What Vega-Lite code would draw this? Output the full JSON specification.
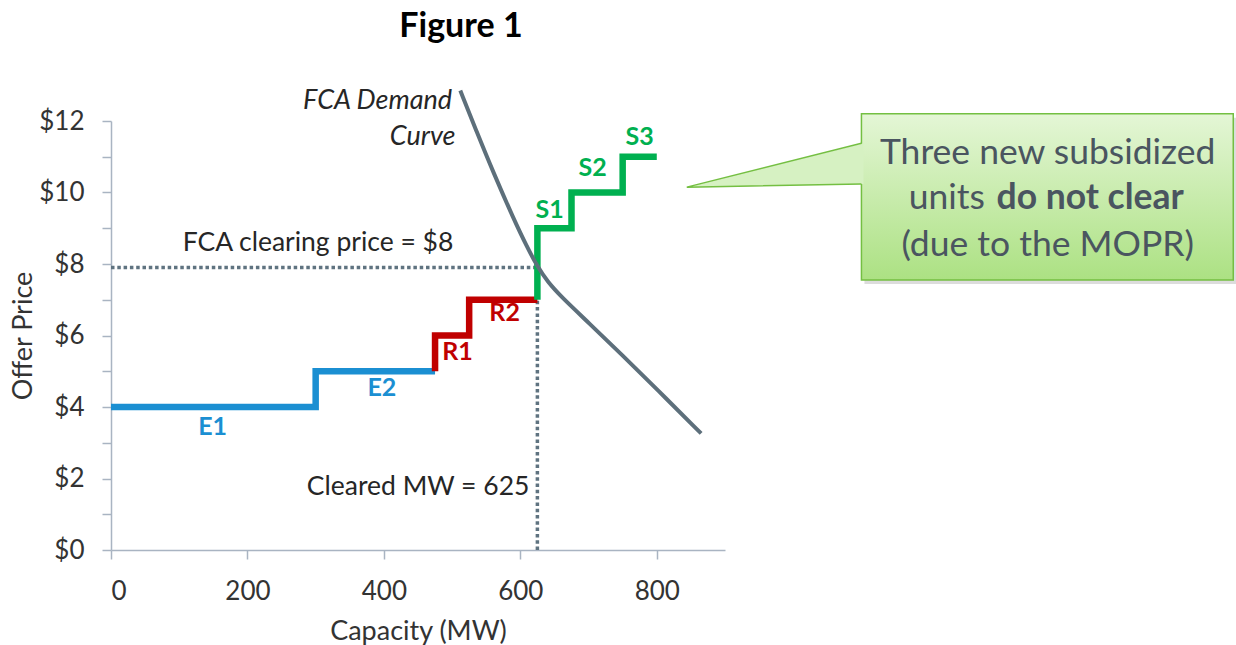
{
  "$schema": "https://vega.github.io/schema/vega-lite/v6.json",
  "width": 614,
  "height": 429,
  "autosize": {"type": "none"},
  "padding": {"left": 111, "top": 121, "right": 511, "bottom": 95},
  "background": "white",
  "config": {"view": {"stroke": null}, "font": "Lato"},
  "datasets": {
    "steps": [
      {"seg": "E", "o": 0, "x": 0, "y": 4},
      {"seg": "E", "o": 1, "x": 300, "y": 4},
      {"seg": "E", "o": 2, "x": 300, "y": 5},
      {"seg": "E", "o": 3, "x": 475, "y": 5},
      {"seg": "R", "o": 0, "x": 475, "y": 5},
      {"seg": "R", "o": 1, "x": 475, "y": 6},
      {"seg": "R", "o": 2, "x": 525, "y": 6},
      {"seg": "R", "o": 3, "x": 525, "y": 7},
      {"seg": "R", "o": 4, "x": 625, "y": 7},
      {"seg": "S", "o": 0, "x": 625, "y": 7},
      {"seg": "S", "o": 1, "x": 625, "y": 9},
      {"seg": "S", "o": 2, "x": 675, "y": 9},
      {"seg": "S", "o": 3, "x": 675, "y": 10},
      {"seg": "S", "o": 4, "x": 750, "y": 10},
      {"seg": "S", "o": 5, "x": 750, "y": 11},
      {"seg": "S", "o": 6, "x": 800, "y": 11}
    ],
    "labels": [
      {"seg": "E", "label": "E1", "x": 149, "y": 3.44},
      {"seg": "E", "label": "E2", "x": 397, "y": 4.53},
      {"seg": "R", "label": "R1", "x": 508, "y": 5.54},
      {"seg": "R", "label": "R2", "x": 577, "y": 6.63},
      {"seg": "S", "label": "S1", "x": 643, "y": 9.51},
      {"seg": "S", "label": "S2", "x": 706, "y": 10.69},
      {"seg": "S", "label": "S3", "x": 775, "y": 11.55}
    ],
    "demand": [
      {"x": 512, "y": 12.85},
      {"x": 536, "y": 11.7},
      {"x": 560, "y": 10.58},
      {"x": 590, "y": 9.27},
      {"x": 610, "y": 8.47},
      {"x": 625, "y": 7.93},
      {"x": 640, "y": 7.5},
      {"x": 660, "y": 7.08},
      {"x": 700, "y": 6.36},
      {"x": 750, "y": 5.44},
      {"x": 800, "y": 4.5},
      {"x": 865, "y": 3.26}
    ],
    "clearing": [
      {"x": 0, "x2": 625, "y": 7.9, "y2": 7.9},
      {"x": 625, "x2": 625, "y": 0, "y2": 7}
    ],
    "notesItalic": [
      {"text": "FCA Demand", "x": 500, "y": 12.56},
      {"text": "Curve", "x": 505, "y": 11.55}
    ],
    "notes": [
      {"text": "FCA clearing price = $8", "x": 105, "y": 8.59},
      {"text": "Cleared MW = 625", "x": 287, "y": 1.76}
    ],
    "box": [{"x": 1100, "x2": 1645, "y": 12.2, "y2": 7.55}],
    "pointerFill": [
      {"x": 844, "y": 10.15, "y2": 10.15},
      {"x": 1103, "y": 11.38, "y2": 10.24}
    ],
    "pointerEdge": [
      {"o": 0, "x": 1100, "y": 11.38},
      {"o": 1, "x": 844, "y": 10.15},
      {"o": 2, "x": 1100, "y": 10.24}
    ],
    "boxText": [
      {"text": "Three new subsidized", "x": 1373, "y": 11.1},
      {"text": "(due to the MOPR)", "x": 1373, "y": 8.53}
    ],
    "boxTextR": [{"text": "units", "x": 1281, "y": 9.85}],
    "boxTextB": [{"text": "do not clear", "x": 1298, "y": 9.85}],
    "title": [{"text": "Figure 1", "x": 513, "y": 14.63}]
  },
  "encoding": {
    "x": {
      "field": "x", "type": "quantitative",
      "scale": {"domain": [0, 900], "nice": false, "zero": false},
      "axis": {
        "title": "Capacity (MW)", "values": [0, 200, 400, 600, 800],
        "grid": false, "domainColor": "#a9b4c2", "domainWidth": 1.5,
        "tickColor": "#a9b4c2", "tickWidth": 1.5, "tickSize": 9,
        "labelFontSize": 26, "labelColor": "#333333", "labelPadding": 19, "labelFont": "Lato",
        "titleFontSize": 27, "titleColor": "#333333", "titleFontWeight": "normal", "titlePadding": 14, "titleFont": "Lato"
      }
    },
    "y": {
      "field": "y", "type": "quantitative",
      "scale": {"domain": [0, 12], "nice": false, "zero": false},
      "axis": {
        "title": "Offer Price", "values": [0, 1, 2, 3, 4, 5, 6, 7, 8, 9, 10, 11, 12],
        "labelExpr": "datum.value % 2 == 0 ? '$' + datum.value : ''",
        "grid": false, "domainColor": "#a9b4c2", "domainWidth": 1.5,
        "tickColor": "#a9b4c2", "tickWidth": 1.5, "tickSize": 9,
        "labelFontSize": 26, "labelColor": "#333333", "labelPadding": 18, "labelFont": "Lato",
        "titleFontSize": 27, "titleColor": "#333333", "titleFontWeight": "normal", "titlePadding": 1, "titleFont": "Lato"
      }
    }
  },
  "layer": [
    {
      "data": {"name": "box"},
      "mark": {"type": "rect", "fill": "#9a9a9a", "opacity": 0.35, "xOffset": 3, "yOffset": 4, "x2Offset": 3, "y2Offset": 4},
      "encoding": {"x2": {"field": "x2"}, "y2": {"field": "y2"}}
    },
    {
      "data": {"name": "box"},
      "mark": {
        "type": "rect", "stroke": "#74bf42", "strokeWidth": 1.5,
        "fill": {"gradient": "linear", "x1": 0, "y1": 0, "x2": 0, "y2": 1,
          "stops": [{"offset": 0, "color": "#e4f6d6"}, {"offset": 1, "color": "#ace183"}]}
      },
      "encoding": {"x2": {"field": "x2"}, "y2": {"field": "y2"}}
    },
    {
      "data": {"name": "pointerFill"},
      "mark": {"type": "area", "color": "#d6f1c2", "opacity": 1},
      "encoding": {"y2": {"field": "y2"}}
    },
    {
      "data": {"name": "pointerEdge"},
      "mark": {"type": "line", "color": "#74bf42", "strokeWidth": 1.5},
      "encoding": {"order": {"field": "o", "type": "quantitative"}}
    },
    {
      "data": {"name": "clearing"},
      "mark": {"type": "rule", "color": "#5f7380", "strokeWidth": 3.5, "strokeDash": [3.5, 2.8]},
      "encoding": {"x2": {"field": "x2"}, "y2": {"field": "y2"}}
    },
    {
      "data": {"name": "steps"},
      "mark": {"type": "line", "strokeWidth": 6.5, "strokeJoin": "miter"},
      "encoding": {
        "order": {"field": "o", "type": "quantitative"},
        "color": {"field": "seg", "type": "nominal", "legend": null,
          "scale": {"domain": ["E", "R", "S"], "range": ["#1b8fd2", "#c00000", "#00b050"]}}
      }
    },
    {
      "data": {"name": "demand"},
      "mark": {"type": "line", "color": "#5d6f7b", "strokeWidth": 4, "interpolate": "basis"}
    },
    {
      "data": {"name": "labels"},
      "mark": {"type": "text", "fontSize": 25, "fontWeight": "bold", "font": "Lato", "align": "center", "baseline": "middle"},
      "encoding": {
        "text": {"field": "label"},
        "color": {"field": "seg", "type": "nominal", "legend": null,
          "scale": {"domain": ["E", "R", "S"], "range": ["#1b8fd2", "#c00000", "#00b050"]}}
      }
    },
    {
      "data": {"name": "notesItalic"},
      "mark": {"type": "text", "fontSize": 27, "fontStyle": "italic", "font": "Lato", "align": "right", "baseline": "middle", "color": "#262626"},
      "encoding": {"text": {"field": "text"}}
    },
    {
      "data": {"name": "notes"},
      "mark": {"type": "text", "fontSize": 26.5, "font": "Lato", "align": "left", "baseline": "middle", "color": "#262626"},
      "encoding": {"text": {"field": "text"}}
    },
    {
      "data": {"name": "boxText"},
      "mark": {"type": "text", "fontSize": 35.5, "font": "Lato", "align": "center", "baseline": "middle", "color": "#4a5560"},
      "encoding": {"text": {"field": "text"}}
    },
    {
      "data": {"name": "boxTextR"},
      "mark": {"type": "text", "fontSize": 35.5, "font": "Lato", "align": "right", "baseline": "middle", "color": "#4a5560"},
      "encoding": {"text": {"field": "text"}}
    },
    {
      "data": {"name": "boxTextB"},
      "mark": {"type": "text", "fontSize": 35.5, "font": "Lato", "fontWeight": "bold", "align": "left", "baseline": "middle", "color": "#4a5560"},
      "encoding": {"text": {"field": "text"}}
    },
    {
      "data": {"name": "title"},
      "mark": {"type": "text", "fontSize": 34, "font": "Lato", "fontWeight": "bold", "align": "center", "baseline": "middle", "color": "#000000"},
      "encoding": {"text": {"field": "text"}}
    }
  ]
}
